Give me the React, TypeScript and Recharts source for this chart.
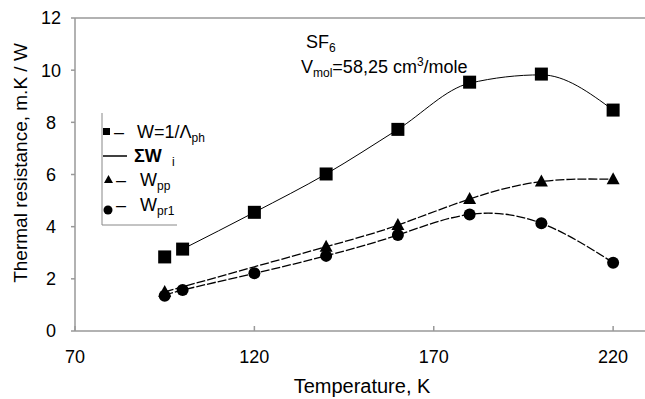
import React from "react";
import {
  ComposedChart,
  Line,
  Scatter,
  XAxis,
  YAxis,
  ReferenceLine,
  Customized,
} from "recharts";

// ---- data ----
const temps = [95, 100, 120, 140, 160, 180, 200, 220];
const wPhonon = [2.84, 3.14, 4.55, 6.02, 7.73, 9.54, 9.85, 8.47]; // W = 1/Λph (squares)
const wPr1 = [1.35, 1.57, 2.21, 2.88, 3.68, 4.47, 4.13, 2.62]; // Wpr1 (circles)
const tempsPp = [95, 140, 160, 180, 200, 220];
const wPp = [1.5, 3.23, 4.06, 5.06, 5.73, 5.82]; // Wpp (triangles)
const sumTemps = [100, 120, 140, 160, 180, 200, 220];
const sumW = [3.14, 4.55, 6.02, 7.73, 9.5, 9.82, 8.47]; // ΣWi fitted curve
const xTicks = [70, 120, 170, 220];
const yTicks = [0, 2, 4, 6, 8, 10, 12];

const zip = (xs: number[], ys: number[]) => xs.map((t, i) => ({ t, v: ys[i] }));
const phData = zip(temps, wPhonon);
const pr1Data = zip(temps, wPr1);
const ppData = zip(tempsPp, wPp);
const sumData = zip(sumTemps, sumW);

const FONT = "'Liberation Sans', Arial, Helvetica, sans-serif";
const AXIS = "#999";

const Square = (p: any) => (
  <rect x={p.cx - 6.5} y={p.cy - 6.5} width={13} height={13} fill="#000" />
);
const Circle = (p: any) => <circle cx={p.cx} cy={p.cy} r={6} fill="#000" />;
const Tri = (p: any) => (
  <path
    d={`M${p.cx},${p.cy - 7} L${p.cx + 6.5},${p.cy + 5} L${p.cx - 6.5},${p.cy + 5} Z`}
    fill="#000"
  />
);

const XTick = (p: any) => {
  const x = p.x;
  return (
    <g>
      <line x1={x} y1={331} x2={x} y2={326} stroke={AXIS} strokeWidth={1.5} />
      <text x={x} y={363} textAnchor="middle" fontSize={18} fontFamily={FONT} fill="#000">
        {p.payload.value}
      </text>
    </g>
  );
};

const YTick = (p: any) => (
  <text
    x={51}
    y={p.y}
    dy="0.36em"
    textAnchor="middle"
    fontSize={18}
    fontFamily={FONT}
    fill="#000"
  >
    {p.payload.value}
  </text>
);

const Extras = () => (
  <g fontFamily={FONT} fill="#000">
    {/* annotations */}
    <text x={306} y={48} fontSize={18}>
      SF<tspan fontSize={12} dy={4}>6</tspan>
    </text>
    <text x={301} y={73} fontSize={18}>
      V<tspan fontSize={12} dy={4}>mol</tspan>
      <tspan dy={-4}>=58,25 cm</tspan>
      <tspan fontSize={12} dy={-7}>3</tspan>
      <tspan dy={7}>/mole</tspan>
    </text>
    {/* legend frame */}
    <line x1={102} y1={113} x2={102} y2={225} stroke="#888" strokeWidth={1} />
    <line x1={102} y1={225} x2={177} y2={225} stroke="#888" strokeWidth={1} />
    {/* row 1 */}
    <rect x={103} y={128} width={7} height={7} fill="#000" />
    <text x={114} y={138} fontSize={18}>–</text>
    <text x={137} y={138} fontSize={18}>
      W=1/Λ<tspan fontSize={12} dy={4}>ph</tspan>
    </text>
    {/* row 2 */}
    <line x1={103} y1={156} x2={127} y2={156} stroke="#000" strokeWidth={1.5} />
    <text x={134} y={162} fontSize={18} fontWeight="bold">
      ΣW
    </text>
    <text x={172} y={166} fontSize={12}>i</text>
    {/* row 3 */}
    <path d="M108.5,175 L113,183 L104,183 Z" fill="#000" />
    <text x={116} y={186} fontSize={18}>–</text>
    <text x={140} y={186} fontSize={18}>
      W<tspan fontSize={12} dy={4}>pp</tspan>
    </text>
    {/* row 4 */}
    <circle cx={108} cy={210} r={4.5} fill="#000" />
    <text x={116} y={211} fontSize={18}>–</text>
    <text x={140} y={211} fontSize={18}>
      W<tspan fontSize={12} dy={4}>pr1</tspan>
    </text>
    {/* axis titles */}
    <text x={362} y={393} textAnchor="middle" fontSize={20}>
      Temperature, K
    </text>
    <text
      x={0}
      y={0}
      transform="translate(27,163) rotate(-90)"
      textAnchor="middle"
      fontSize={19}
    >
      Thermal resistance, m.K / W
    </text>
  </g>
);

export default function App() {
  return (
    <div style={{ position: "absolute", left: 0, top: 0, width: 645, height: 399, overflow: "hidden", background: "#fff" }}>
      <ComposedChart
        width={660}
        height={399}
        margin={{ top: 18, right: 11, bottom: 0, left: 0 }}
      >
        <XAxis
          type="number"
          dataKey="t"
          domain={[70, 230]}
          ticks={xTicks}
          allowDataOverflow
          height={68}
          axisLine={{ stroke: AXIS, strokeWidth: 1.5 }}
          tickLine={false}
          tick={<XTick />}
        />
        <YAxis
          type="number"
          domain={[0, 12]}
          ticks={yTicks}
          width={75}
          axisLine={{ stroke: AXIS, strokeWidth: 1.5 }}
          tickLine={{ stroke: AXIS, strokeWidth: 1.5 }}
          tickSize={4}
          tick={<YTick />}
        />
        <ReferenceLine y={12} stroke={AXIS} strokeWidth={1.5} ifOverflow="visible" />
        <Line
          data={sumData}
          dataKey="v"
          type="monotone"
          stroke="#000"
          strokeWidth={1}
          dot={false}
          activeDot={false}
          isAnimationActive={false}
        />
        <Line
          data={ppData}
          dataKey="v"
          type="natural"
          stroke="#000"
          strokeWidth={1.3}
          strokeDasharray="9 2"
          dot={false}
          activeDot={false}
          isAnimationActive={false}
        />
        <Line
          data={pr1Data}
          dataKey="v"
          type="natural"
          stroke="#000"
          strokeWidth={1.3}
          strokeDasharray="9 2"
          dot={false}
          activeDot={false}
          isAnimationActive={false}
        />
        <Scatter data={phData} dataKey="v" shape={Square} isAnimationActive={false} />
        <Scatter data={ppData} dataKey="v" shape={Tri} isAnimationActive={false} />
        <Scatter data={pr1Data} dataKey="v" shape={Circle} isAnimationActive={false} />
        <Customized component={Extras} />
      </ComposedChart>
    </div>
  );
}
